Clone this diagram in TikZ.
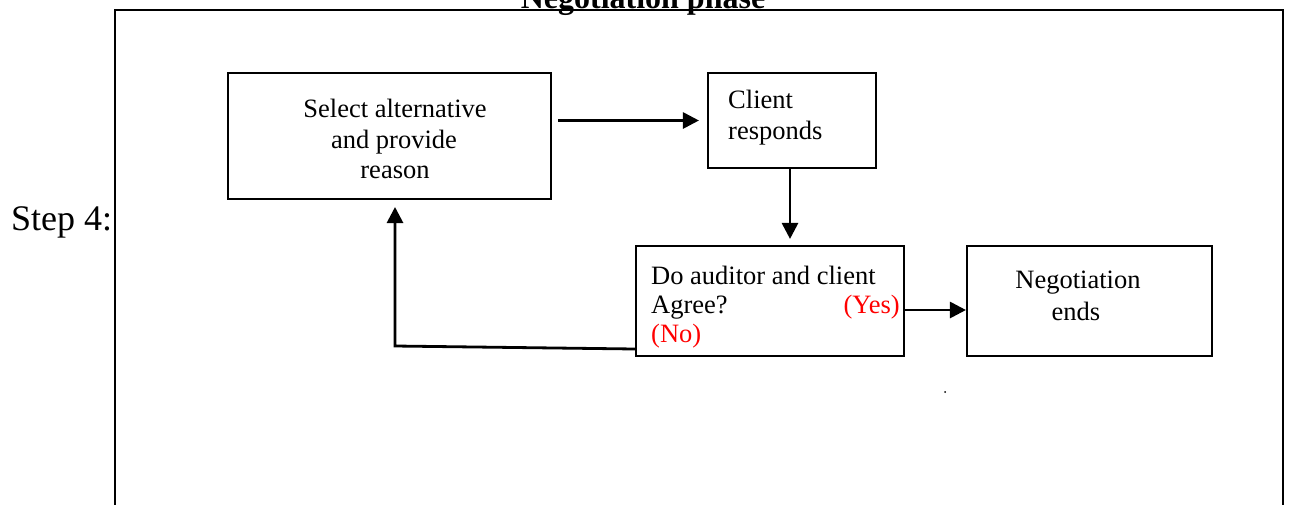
\documentclass[tikz,border=0pt]{standalone}
\usepackage{fontspec}
\setmainfont{Liberation Serif}
\usetikzlibrary{arrows.meta}
\tikzset{
  box/.style={draw=black, line width=2.1pt, minimum width=#1, inner sep=0pt},
  txt/.style={inner sep=0pt, font=\fontsize{26.5}{30.5}\selectfont},
  redtxt/.style={txt, text=red},
  arr/.style={draw=black, line width=2.8pt, -{Triangle[length=16pt,width=16pt]}},
}
\begin{document}
\begin{tikzpicture}[x=1pt,y=-1pt]
\useasboundingbox (0,0) rectangle (1289,504);
% outer frame
\draw[line width=2.6pt] (115,530) -- (115,10) -- (1283,10) -- (1283,530);
% title and step
\node[inner sep=0pt, anchor=base, font=\fontsize{32}{36}\selectfont\bfseries] (title) at (643,8) {Negotiation phase};
\node[inner sep=0pt, anchor=base west, font=\fontsize{36}{40}\selectfont] (step) at (11,230) {Step 4:};
% boxes
\node[box=323pt, minimum height=126pt] (box1) at (389.5,136) {};
\node[box=168pt, minimum height=95pt] (box2) at (792,120.5) {};
\node[box=268pt, minimum height=110pt] (box3) at (770,301) {};
\node[box=245pt, minimum height=110pt] (box4) at (1089.5,301) {};
% texts
\node[txt, anchor=base] (t1a) at (395,117) {Select alternative};
\node[txt, anchor=base] (t1b) at (394,148) {and provide};
\node[txt, anchor=base] (t1c) at (395,178) {reason};
\node[txt, anchor=base west] (t2a) at (728,108) {Client};
\node[txt, anchor=base west] (t2b) at (728,139) {responds};
\node[txt, anchor=base west] (t3a) at (651,284) {Do auditor and client};
\node[txt, anchor=base west] (t3b) at (651,313.5) {Agree?};
\node[redtxt, anchor=base east] (t3yes) at (900,313.5) {(Yes)};
\node[redtxt, anchor=base west] (t3no) at (651,342.5) {(No)};
\node[txt, anchor=base] (t4a) at (1078,288) {Negotiation};
\node[txt, anchor=base] (t4b) at (1076,320) {ends};
% small dot
\node[circle, fill=black, inner sep=0pt, minimum size=2pt] (dot) at (945,392) {};
% connectors
\draw[arr, shorten <=6pt, shorten >=8pt] (box1.east |- box2.west) -- (box2.west);
\draw[arr, shorten >=6pt] ([xshift=-2pt]box2.south) -- ([xshift=-2pt]box2.south |- box3.north);
\draw[arr] ([yshift=-9pt]box3.east) -- ([yshift=-9pt]box4.west);
\coordinate (c1) at (395,346);
\coordinate (c2) at (395,207);
\draw[arr] ([yshift=-48pt]box3.west) -- (c1) -- (c2);
\end{tikzpicture}
\end{document}
